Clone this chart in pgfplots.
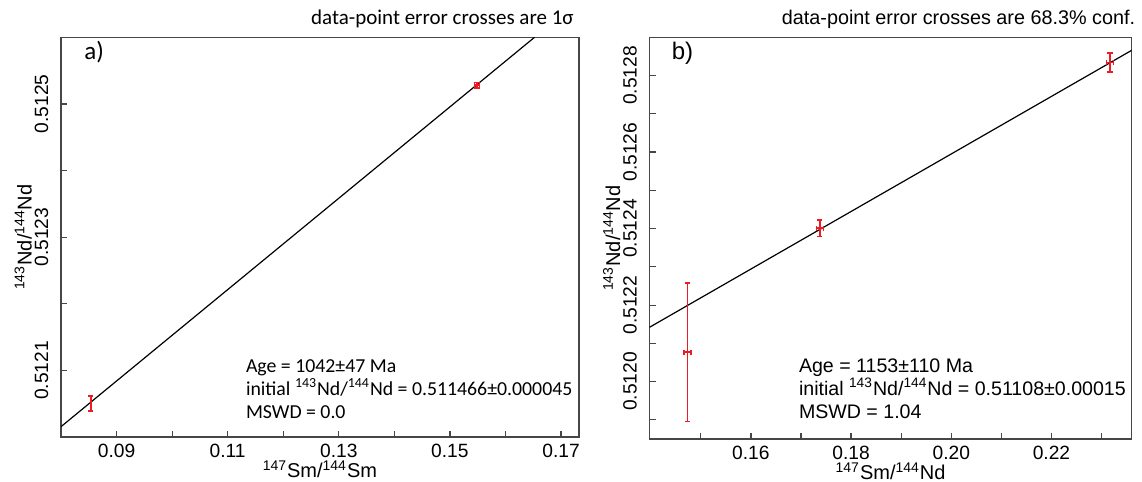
\documentclass[border=0pt]{standalone}
\usepackage{pgfplots}
\pgfplotsset{compat=1.18}
\usepackage{fontspec}
\setmainfont{Liberation Sans}
\newfontfamily\myr{Carlito}
\definecolor{errred}{RGB}{237,28,36}
\definecolor{axgray}{RGB}{70,70,70}
\begin{document}
\begin{tikzpicture}
\useasboundingbox (0,0) rectangle (571pt,-241pt);
\pgfplotsset{
  every axis/.append style={
    scale only axis,
    axis line style={axgray, line width=0.8pt},
    tick align=inside, xtick pos=bottom, ytick pos=left,
    major tick length=3pt,
    tick style={axgray, line width=0.6pt},
    tick label style={font=\fontsize{9.6}{11}\selectfont},
    xticklabel style={anchor=north},
    yticklabel style={xshift=-2.8pt, rotate=90, anchor=south},
    label style={font=\fontsize{10}{12}\selectfont},
    every axis x label/.style={at={(axis description cs:0.5,0)}, anchor=north, yshift=-8.3pt},
    every axis y label/.style={at={(axis description cs:0,0.5)}, xshift=-11pt, rotate=90, anchor=south},
    unbounded coords=jump,
  },
  errcross/.style={draw=errred, line width=0.9pt, mark=none},
}
% Panel a
\begin{axis}[at={(30.5pt,-218.5pt)}, anchor=south west,
  width=258.9pt, height=199.85pt,
  xmin=0.08, xmax=0.1732, ymin=0.5120, ymax=0.5126,
  xtick={0.09,0.10,0.11,0.12,0.13,0.14,0.15,0.16,0.17},
  xticklabels={0.09,,0.11,,0.13,,0.15,,0.17},
  ytick={0.5121,0.5122,0.5123,0.5124,0.5125},
  yticklabels={0.5121,,0.5123,,0.5125},
  xlabel={\textsuperscript{147}Sm/\textsuperscript{144}Sm},
  ylabel={\textsuperscript{143}Nd/\textsuperscript{144}Nd},
]
\addplot[black, line width=0.6pt] coordinates {(0.08,0.5120155) (0.16523,0.5126)};
% error crosses (1 sigma)
\addplot[errcross] coordinates {
  (0.08535,0.5120395) (0.08535,0.5120615) (nan,nan)
  (0.08490,0.5120395) (0.08580,0.5120395) (nan,nan)
  (0.08490,0.5120615) (0.08580,0.5120615) (nan,nan)
  (0.08515,0.5120505) (0.08555,0.5120505) (nan,nan)
  (0.1549,0.512525) (0.1549,0.512531) (nan,nan)
  (0.15454,0.512528) (0.15526,0.512528)
};
\addplot[only marks, mark=square, mark size=1.3pt, mark options={draw=errred, line width=0.75pt}] coordinates {(0.1549,0.512528)};
\end{axis}
% Panel b
\begin{axis}[at={(324.75pt,-219.5pt)}, anchor=south west,
  width=241.1pt, height=200.85pt,
  xmin=0.13976, xmax=0.23601, ymin=0.51185, ymax=0.5129,
  xtick={0.15,0.16,0.17,0.18,0.19,0.20,0.21,0.22,0.23},
  xticklabels={,0.16,,0.18,,0.20,,0.22,},
  ytick={0.5119,0.5120,0.5121,0.5122,0.5123,0.5124,0.5125,0.5126,0.5127,0.5128},
  yticklabels={,0.5120,,0.5122,,0.5124,,0.5126,,0.5128},
  xlabel={\textsuperscript{147}Sm/\textsuperscript{144}Nd},
  ylabel={\textsuperscript{143}Nd/\textsuperscript{144}Nd},
]
\addplot[black, line width=0.6pt] coordinates {(0.13976,0.512142) (0.23601,0.512866)};
% error crosses (68.3% conf.)
\addplot[errcross] coordinates {
  (0.14735,0.5118958) (0.14735,0.5122578) (nan,nan)
  (0.14685,0.5118958) (0.14785,0.5118958) (nan,nan)
  (0.14685,0.5122578) (0.14785,0.5122578) (nan,nan)
  (0.14669,0.5120768) (0.14801,0.5120768) (nan,nan)
  (0.14669,0.5120703) (0.14669,0.5120833) (nan,nan)
  (0.14801,0.5120703) (0.14801,0.5120833) (nan,nan)
  (0.17379,0.5123795) (0.17379,0.5124215) (nan,nan)
  (0.17329,0.5123795) (0.17429,0.5123795) (nan,nan)
  (0.17329,0.5124215) (0.17429,0.5124215) (nan,nan)
  (0.17309,0.5124005) (0.17449,0.5124005) (nan,nan)
  (0.17309,0.5123940) (0.17309,0.5124070) (nan,nan)
  (0.17449,0.5123940) (0.17449,0.5124070) (nan,nan)
  (0.23168,0.512810) (0.23168,0.512858) (nan,nan)
  (0.23118,0.512810) (0.23218,0.512810) (nan,nan)
  (0.23118,0.512858) (0.23218,0.512858) (nan,nan)
  (0.23098,0.512834) (0.23238,0.512834) (nan,nan)
  (0.23098,0.5128275) (0.23098,0.5128405) (nan,nan)
  (0.23238,0.5128275) (0.23238,0.5128405)
};
\end{axis}
% titles and annotations
\node[anchor=base east, font=\myr\fontsize{10.5}{12}\selectfont, inner sep=0pt] at (287pt,-12.5pt) {data-point error crosses are 1σ};
\node[anchor=base east, font=\fontsize{9.9}{11}\selectfont, inner sep=0pt] at (567.8pt,-12.5pt) {data-point error crosses are 68.3\% conf.};
\node[anchor=base west, font=\myr\fontsize{12.5}{14}\selectfont, inner sep=0pt] at (42pt,-30pt) {a)};
\node[anchor=base west, font=\fontsize{12}{14}\selectfont, inner sep=0pt] at (335.7pt,-30pt) {b)};
\begin{scope}[every node/.style={anchor=base west, inner sep=0pt, font=\myr\fontsize{9.9}{12}\selectfont}]
\node at (122.8pt,-186pt) {Age = 1042±47 Ma};
\node at (122.8pt,-197.5pt) {initial \textsuperscript{143}Nd/\textsuperscript{144}Nd = 0.511466±0.000045};
\node at (122.8pt,-209pt) {MSWD = 0.0};
\end{scope}
\begin{scope}[every node/.style={anchor=base west, inner sep=0pt, font=\fontsize{9.8}{12}\selectfont}]
\node at (399.3pt,-186pt) {Age = 1153±110 Ma};
\node at (399.3pt,-197.5pt) {initial \textsuperscript{143}Nd/\textsuperscript{144}Nd = 0.51108±0.00015};
\node at (399.3pt,-209pt) {MSWD = 1.04};
\end{scope}
\end{tikzpicture}
\end{document}
